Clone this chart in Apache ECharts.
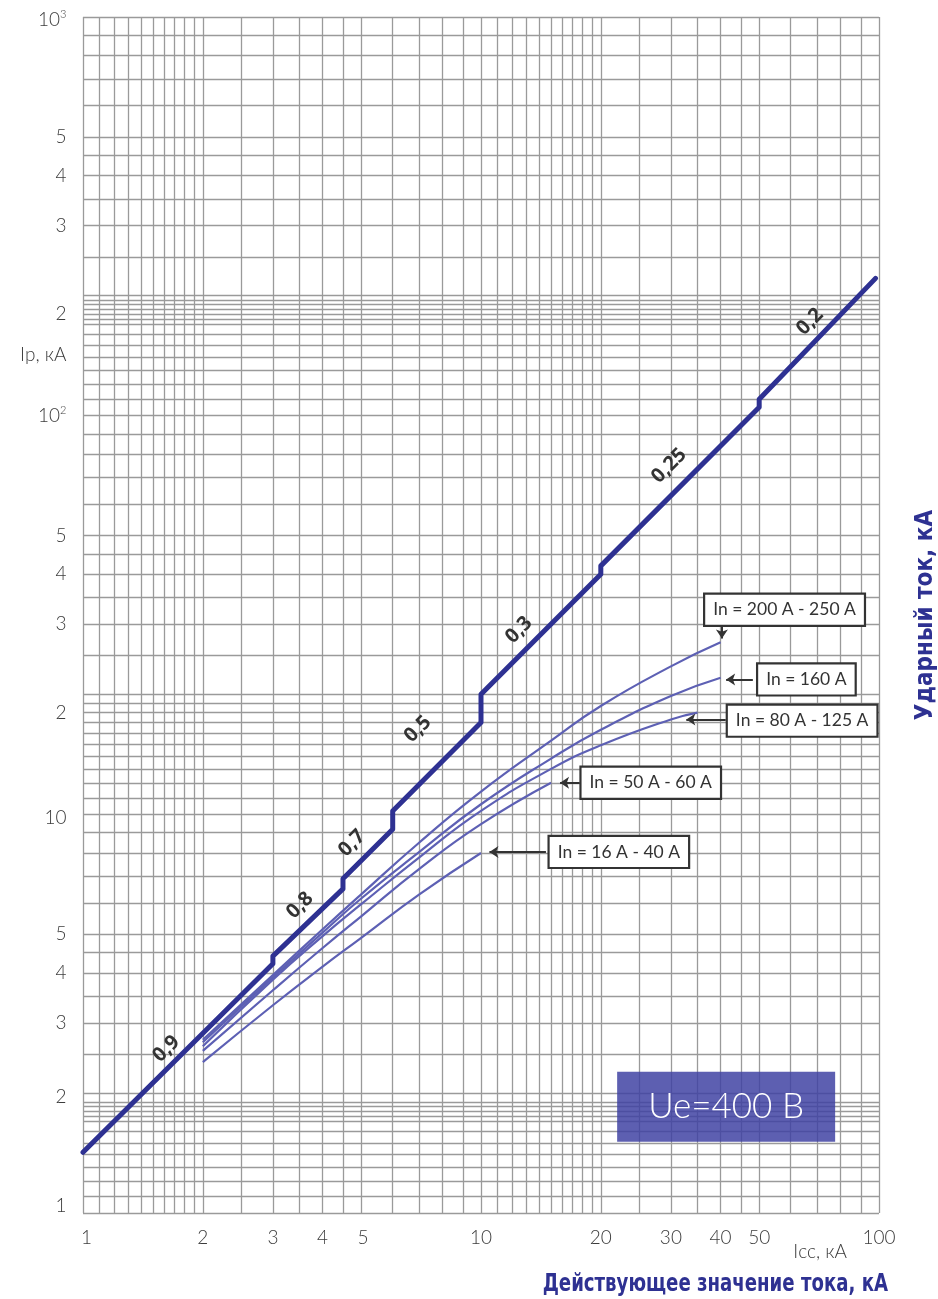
<!DOCTYPE html>
<html><head><meta charset="utf-8">
<script src="https://cdn.jsdelivr.net/npm/echarts/dist/echarts.min.js"></script>
<style>html,body{margin:0;padding:0;background:#fff}#c{width:938px;height:1299px}</style>
</head><body><div id="c"></div>
<script>
// ---- data ----
const mainCurve = [[1,1.42],[3,4.22],[3,4.41],[4.5,6.5],[4.5,6.89],[6,9.18],[6,10.2],[10,17],[10,20],[20,40],[20,42],[50,105],[50,110],[98,221]];
const curve200_250 = [[2,2.72],[3,3.95],[4,5.15],[5,6.3],[7,8.5],[10,11.4],[15,15.3],[20,18.7],[30,23.5],[40,27]];
const curve160     = [[2,2.68],[3,3.9],[4,5.05],[5,6.15],[7,8.05],[10,10.6],[15,13.8],[20,16.3],[30,19.8],[40,22]];
const curve80_125  = [[2,2.62],[3,3.85],[4,4.95],[5,5.95],[7,7.8],[10,10.2],[15,13.0],[20,14.9],[30,17.3],[35,18.0]];
const curve50_60   = [[2,2.55],[3,3.62],[4,4.62],[5,5.55],[7,7.3],[10,9.45],[15,12.0]];
const curve16_40   = [[2,2.39],[3,3.32],[4,4.15],[5,4.9],[7,6.3],[10,8.0]];

const cosLabels = [["0,9",1.62,2.58],["0,8",3.51,5.91],["0,7",4.74,8.46],["0,5",6.94,16.35],["0,3",12.46,29.0],["0,25",29.7,74.9],["0,2",67.1,172]];

const boxLabels = [["In = 200 A - 250 A",57.9,32.6],["In = 160 A",65.7,21.8],["In = 80 A - 125 A",64.1,17.18],["In = 50 A - 60 A",26.7,12.0],["In = 16 A - 40 A",22.2,8.05]];
const arrows = [[[40.3,30.0],[40.3,27.6]],[[48.2,21.8],[41.3,21.8]],[[41.2,17.3],[32.8,17.3]],[[17.7,12.0],[15.8,12.0]],[[14.56,8.05],[10.5,8.05]]];

const xTickLabels = [["1",1.02],["2",2],["3",3],["4",4],["5",5.05],["10",10],["20",20],["30",30],["40",40],["50",50],["100",100]];
const yTickLabels = [["1",1.04],["2",1.95],["3",3],["4",4],["5",5],["10",9.8],["2",18],["3",30],["4",40],["5",50],["10{s|2}",100],["2",180],["3",300],["4",400],["5",500],["10{s|3}",985]];

const xGridMult = [1,1.1,1.2,1.3,1.4,1.5,1.6,1.7,1.8,1.9,2,2.5,3,3.5,4,4.5,5,6,7,8,9];
const xGridDecades = [1,10];
const yGridBottom = [1,1.1,1.2,1.3,1.4,1.5,1.6,1.7,1.75,1.8,1.85,1.9,2,2.5,3,3.5,4,4.5,5,6,7,8,9];
const yGridMiddle = [10,11,12,13,14,15,16,17,18,19,20,25,30,35,40,45,50,60,70,80,90];
const yGridTop = [100,110,120,130,140,150,160,170,175,180,185,190,195,200,250,300,350,400,450,500,600,700,800,900,1000];

// ---- chart ----
const xGrid = [];
xGridDecades.forEach(d => xGridMult.forEach(m => xGrid.push(+(d*m).toFixed(4))));
xGrid.push(100);
const yGrid = yGridBottom.concat(yGridMiddle, yGridTop);

const NAVY = '#2e3192';
const THIN = '#5d60b4';
const TICKFONT = 'Lato, "Open Sans", sans-serif';
const NOITEM = {color:'rgba(0,0,0,0)', opacity:1};

function thin(name, data){
  return {name, type:'line', data, showSymbol:false, smooth:0.5, z:3,
    lineStyle:{color:THIN, width:2.2}, animation:false, silent:true};
}

const chart = echarts.init(document.getElementById('c'), null, {renderer:'canvas'});
chart.setOption({
  animation:false,
  backgroundColor:'#fff',
  grid:{left:83, right:59, top:17, bottom:86},
  xAxis:{type:'log', logBase:10, min:1, max:100, axisLabel:{show:false}, axisLine:{show:false}, axisTick:{show:false}, splitLine:{show:false}},
  yAxis:{type:'log', logBase:10, min:1, max:1000, axisLabel:{show:false}, axisLine:{show:false}, axisTick:{show:false}, splitLine:{show:false}},
  graphic:[
    {type:'text', x:926, y:615, rotation:Math.PI/2, z:10,
      style:{text:'Ударный ток, кА', fill:NAVY, font:'bold 24px "Liberation Sans Narrow", "DejaVu Sans Condensed", sans-serif', textAlign:'center', textVerticalAlign:'middle'}},
    {type:'text', x:888, y:1285, scaleX:0.84, z:10,
      style:{text:'Действующее значение тока, кА', fill:NAVY, font:'bold 24px "Liberation Sans Narrow", "DejaVu Sans Condensed", sans-serif', textAlign:'right', textVerticalAlign:'middle'}}
  ],
  series:[
    {type:'line', data:[[1,1]], showSymbol:false, z:1, silent:true, lineStyle:{width:0},
      markLine:{z:1, silent:true, symbol:['none','none'], animation:false, label:{show:false},
        lineStyle:{color:'#9a9a9a', width:1.3, type:'solid'},
        data: xGrid.map(v=>({xAxis:v})).concat(yGrid.map(v=>({yAxis:v})))}},
    {type:'scatter', z:2, silent:true, symbolSize:1, clip:false, itemStyle:NOITEM,
      data:[{value:[41.3,1.846], name:'Ue=400 B'}],
      label:{show:true, position:'inside', formatter:'{b}', width:218, height:70, lineHeight:70, align:'center', verticalAlign:'middle',
        backgroundColor:'rgba(62,64,162,0.84)', color:'#fff', fontSize:35, fontFamily:TICKFONT, fontWeight:300}},
    thin('200-250', curve200_250),
    thin('160', curve160),
    thin('80-125', curve80_125),
    thin('50-60', curve50_60),
    thin('16-40', curve16_40),
    {name:'main', type:'line', data:mainCurve, showSymbol:false, z:4, silent:true,
      lineStyle:{color:NAVY, width:5, cap:'round', join:'round'}},
    {type:'scatter', z:6, silent:true, symbolSize:1, clip:false, itemStyle:NOITEM,
      data: cosLabels.map(d=>({value:[d[1],d[2]], name:d[0]})),
      label:{show:true, position:'inside', formatter:'{b}', rotate:45, color:'#333', fontSize:20, fontWeight:'bold', fontFamily:'"Open Sans", "Noto Sans", sans-serif'}},
    {type:'line', data:[[1,1]], showSymbol:false, z:5, silent:true, lineStyle:{width:0},
      markLine:{z:5, silent:true, animation:false, symbol:['none','arrow'], symbolSize:9, label:{show:false},
        lineStyle:{color:'#333', width:2, type:'solid'},
        data: arrows.map(a=>[{coord:a[0]},{coord:a[1]}])}},
    {type:'scatter', z:7, silent:true, symbolSize:1, clip:false, itemStyle:NOITEM,
      data: boxLabels.map(d=>({value:[d[1],d[2]], name:d[0]})),
      label:{show:true, position:'inside', formatter:'{b}', color:'#333', fontSize:17.5, fontFamily:TICKFONT,
        backgroundColor:'#fff', borderColor:'#333', borderWidth:2.2, padding:[6,8,6,8]}},
    {type:'scatter', z:7, silent:true, symbolSize:1, clip:false, itemStyle:NOITEM,
      data: yTickLabels.map(d=>({value:[1,d[1]], name:d[0]})).concat([{value:[1,142], name:'Iр, кА'}]),
      label:{show:true, position:'left', distance:16, formatter:'{b}', color:'#3c3c3c', fontSize:19, fontFamily:TICKFONT, fontWeight:300,
        rich:{s:{fontSize:11, fontFamily:TICKFONT, color:'#3c3c3c', verticalAlign:'top', padding:[0,0,10,0]}}}},
    {type:'scatter', z:7, silent:true, symbolSize:1, clip:false, itemStyle:NOITEM,
      data: xTickLabels.map(d=>({value:[d[1],1], name:d[0]})),
      label:{show:true, position:'bottom', distance:15, formatter:'{b}', color:'#3c3c3c', fontSize:19, fontFamily:TICKFONT, fontWeight:300}},
    {type:'scatter', z:7, silent:true, symbolSize:1, clip:false, itemStyle:NOITEM,
      data:[{value:[71.1,1], name:'Iсс, кА'}],
      label:{show:true, position:'bottom', distance:29, formatter:'{b}', color:'#3c3c3c', fontSize:19, fontFamily:TICKFONT, fontWeight:300}}
  ]
});
</script></body></html>
